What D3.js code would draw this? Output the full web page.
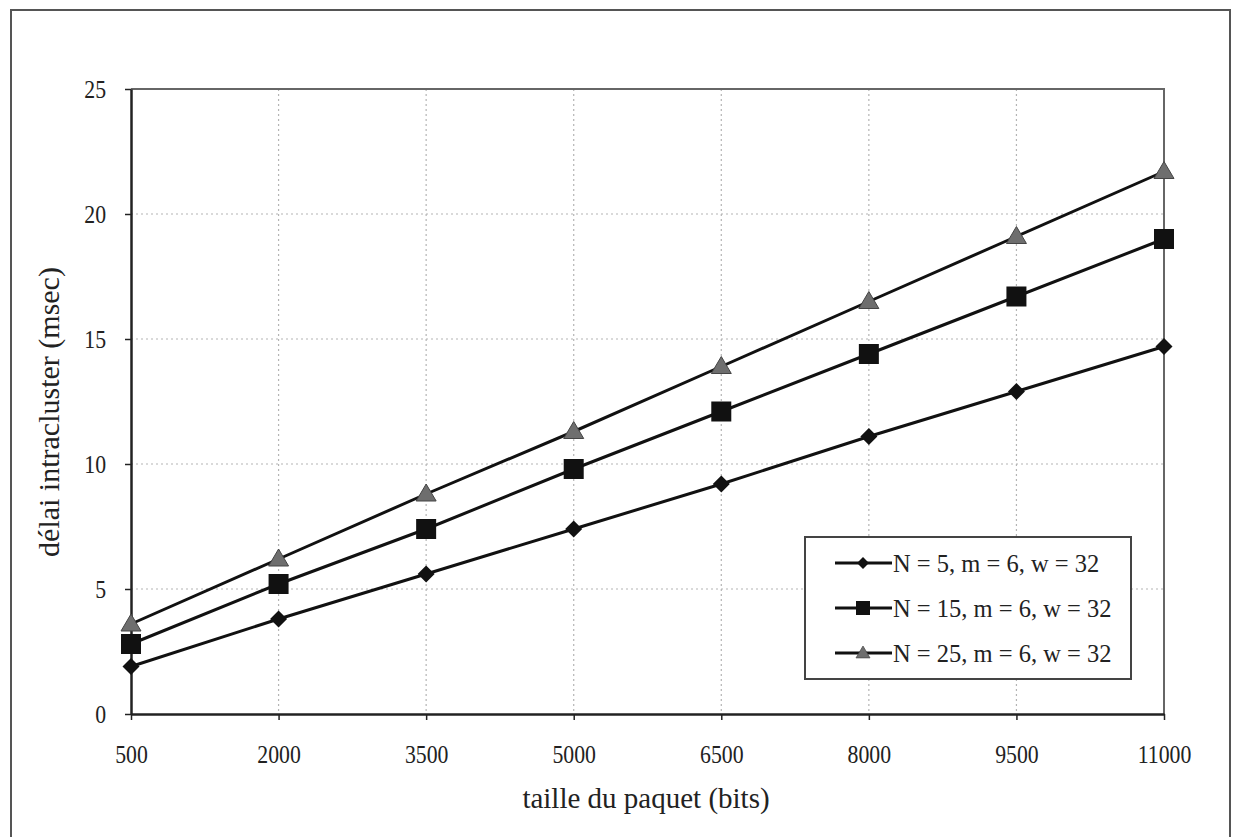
<!DOCTYPE html>
<html>
<head>
<meta charset="utf-8">
<script src="https://cdn.jsdelivr.net/npm/d3@7"></script>
<style>
  html, body { margin: 0; padding: 0; background: #fff; }
  svg { display: block; }
  text { font-family: "Liberation Serif", "Times New Roman", serif; fill: #222; }
</style>
</head>
<body>
<svg id="chart" width="1236" height="837"></svg>
<script>
// Packet sizes (bits) on the x axis
const packetSizes = [500, 2000, 3500, 5000, 6500, 8000, 9500, 11000];
// Intra-cluster delay (msec) for each configuration
const delayN5  = [1.9, 3.8, 5.6, 7.4, 9.2, 11.1, 12.9, 14.7];
const delayN15 = [2.8, 5.2, 7.4, 9.8, 12.1, 14.4, 16.7, 19.0];
const delayN25 = [3.6, 6.2, 8.8, 11.3, 13.9, 16.5, 19.1, 21.7];
const seriesNames = ["N = 5, m = 6, w = 32", "N = 15, m = 6, w = 32", "N = 25, m = 6, w = 32"];
const yTicks = [0, 5, 10, 15, 20, 25];

const series = [
  { name: seriesNames[0], values: delayN5,  marker: "diamond" },
  { name: seriesNames[1], values: delayN15, marker: "square" },
  { name: seriesNames[2], values: delayN25, marker: "triangle" }
];

const svg = d3.select("#chart");

// Outer chart frame
svg.append("rect")
  .attr("x", 11).attr("y", 10).attr("width", 1219).attr("height", 840)
  .attr("fill", "none").attr("stroke", "#555").attr("stroke-width", 2);

const plot = { left: 131, right: 1164, top: 89, bottom: 714 };

const x = d3.scaleLinear().domain([500, 11000]).range([plot.left, plot.right]);
const y = d3.scaleLinear().domain([0, 25]).range([plot.bottom, plot.top]);

// Dotted grid
const grid = svg.append("g").attr("stroke", "#b4b4b4").attr("stroke-width", 1.2)
  .attr("stroke-dasharray", "2,3");
grid.selectAll("line.h").data(yTicks.filter(d => d > 0 && d < 25)).join("line")
  .attr("x1", plot.left).attr("x2", plot.right)
  .attr("y1", d => y(d)).attr("y2", d => y(d));
grid.selectAll("line.v").data(packetSizes.slice(1, -1)).join("line")
  .attr("x1", d => x(d)).attr("x2", d => x(d))
  .attr("y1", plot.top).attr("y2", plot.bottom);

// Plot area border (top and right)
svg.append("path")
  .attr("d", `M${plot.left},${plot.top}H${plot.right}V${plot.bottom}`)
  .attr("fill", "none").attr("stroke", "#666").attr("stroke-width", 2);

// Axes
const yAxis = svg.append("g")
  .attr("transform", `translate(${plot.left},0)`)
  .call(d3.axisLeft(y).tickValues(yTicks).tickSize(6).tickPadding(19).tickSizeOuter(0));
const xAxis = svg.append("g")
  .attr("transform", `translate(0,${plot.bottom})`)
  .call(d3.axisBottom(x).tickValues(packetSizes).tickFormat(d3.format("d")).tickSize(6).tickPadding(25).tickSizeOuter(0));

// Tick labels use a narrow, tall serif look (horizontally condensed)
const squeeze = 0.87;
[yAxis, xAxis].forEach(a => {
  a.select(".domain").attr("stroke", "#222").attr("stroke-width", 2.5);
  a.selectAll(".tick line").attr("stroke", "#222").attr("stroke-width", 1.5);
  a.selectAll(".tick text").style("font-family", "'Liberation Serif', serif")
    .style("font-size", "25px").attr("fill", "#222");
});
xAxis.selectAll(".tick text").attr("transform", `scale(${squeeze},1)`);
yAxis.selectAll(".tick text")
  .attr("x", function () { return +d3.select(this).attr("x") / squeeze; })
  .attr("transform", `scale(${squeeze},1)`);

// Axis titles
svg.append("text")
  .attr("x", 646).attr("y", 808).attr("text-anchor", "middle")
  .style("font-size", "29px").text("taille du paquet (bits)");
svg.append("text")
  .attr("transform", "translate(59,412) rotate(-90)").attr("text-anchor", "middle")
  .style("font-size", "30px").text("délai intracluster (msec)");

// Marker shapes
function drawMarker(sel, type) {
  if (type === "diamond") {
    sel.append("path").attr("d", "M0,-8.5L8.5,0L0,8.5L-8.5,0Z").attr("fill", "#111");
  } else if (type === "square") {
    sel.append("rect").attr("x", -10).attr("y", -10).attr("width", 20).attr("height", 20).attr("fill", "#111");
  } else {
    sel.append("path").attr("d", "M0,-10L10,7L-10,7Z")
      .attr("fill", "#6e6e6e").attr("stroke", "#444").attr("stroke-width", 1);
  }
}

const line = d3.line().x((d, i) => x(packetSizes[i])).y(d => y(d));

series.forEach(s => {
  svg.append("path").datum(s.values)
    .attr("d", line).attr("fill", "none")
    .attr("stroke", "#111").attr("stroke-width", 3);
  svg.append("g").selectAll("g").data(s.values).join("g")
    .attr("transform", (d, i) => `translate(${x(packetSizes[i])},${y(d)})`)
    .each(function () { drawMarker(d3.select(this), s.marker); });
});

// Legend
const legend = svg.append("g");
legend.append("rect")
  .attr("x", 805).attr("y", 537).attr("width", 326).attr("height", 142)
  .attr("fill", "#fff").attr("stroke", "#444").attr("stroke-width", 2);
series.forEach((s, i) => {
  const cy = 563 + i * 45;
  const g = legend.append("g");
  g.append("line").attr("x1", 835).attr("x2", 892).attr("y1", cy).attr("y2", cy)
    .attr("stroke", "#111").attr("stroke-width", 3);
  const m = g.append("g").attr("transform", `translate(863,${cy}) scale(0.7)`);
  drawMarker(m, s.marker);
  g.append("text").attr("x", 893).attr("y", cy).attr("dy", "0.35em")
    .style("font-size", "24.5px").text(s.name);
});
</script>
</body>
</html>
